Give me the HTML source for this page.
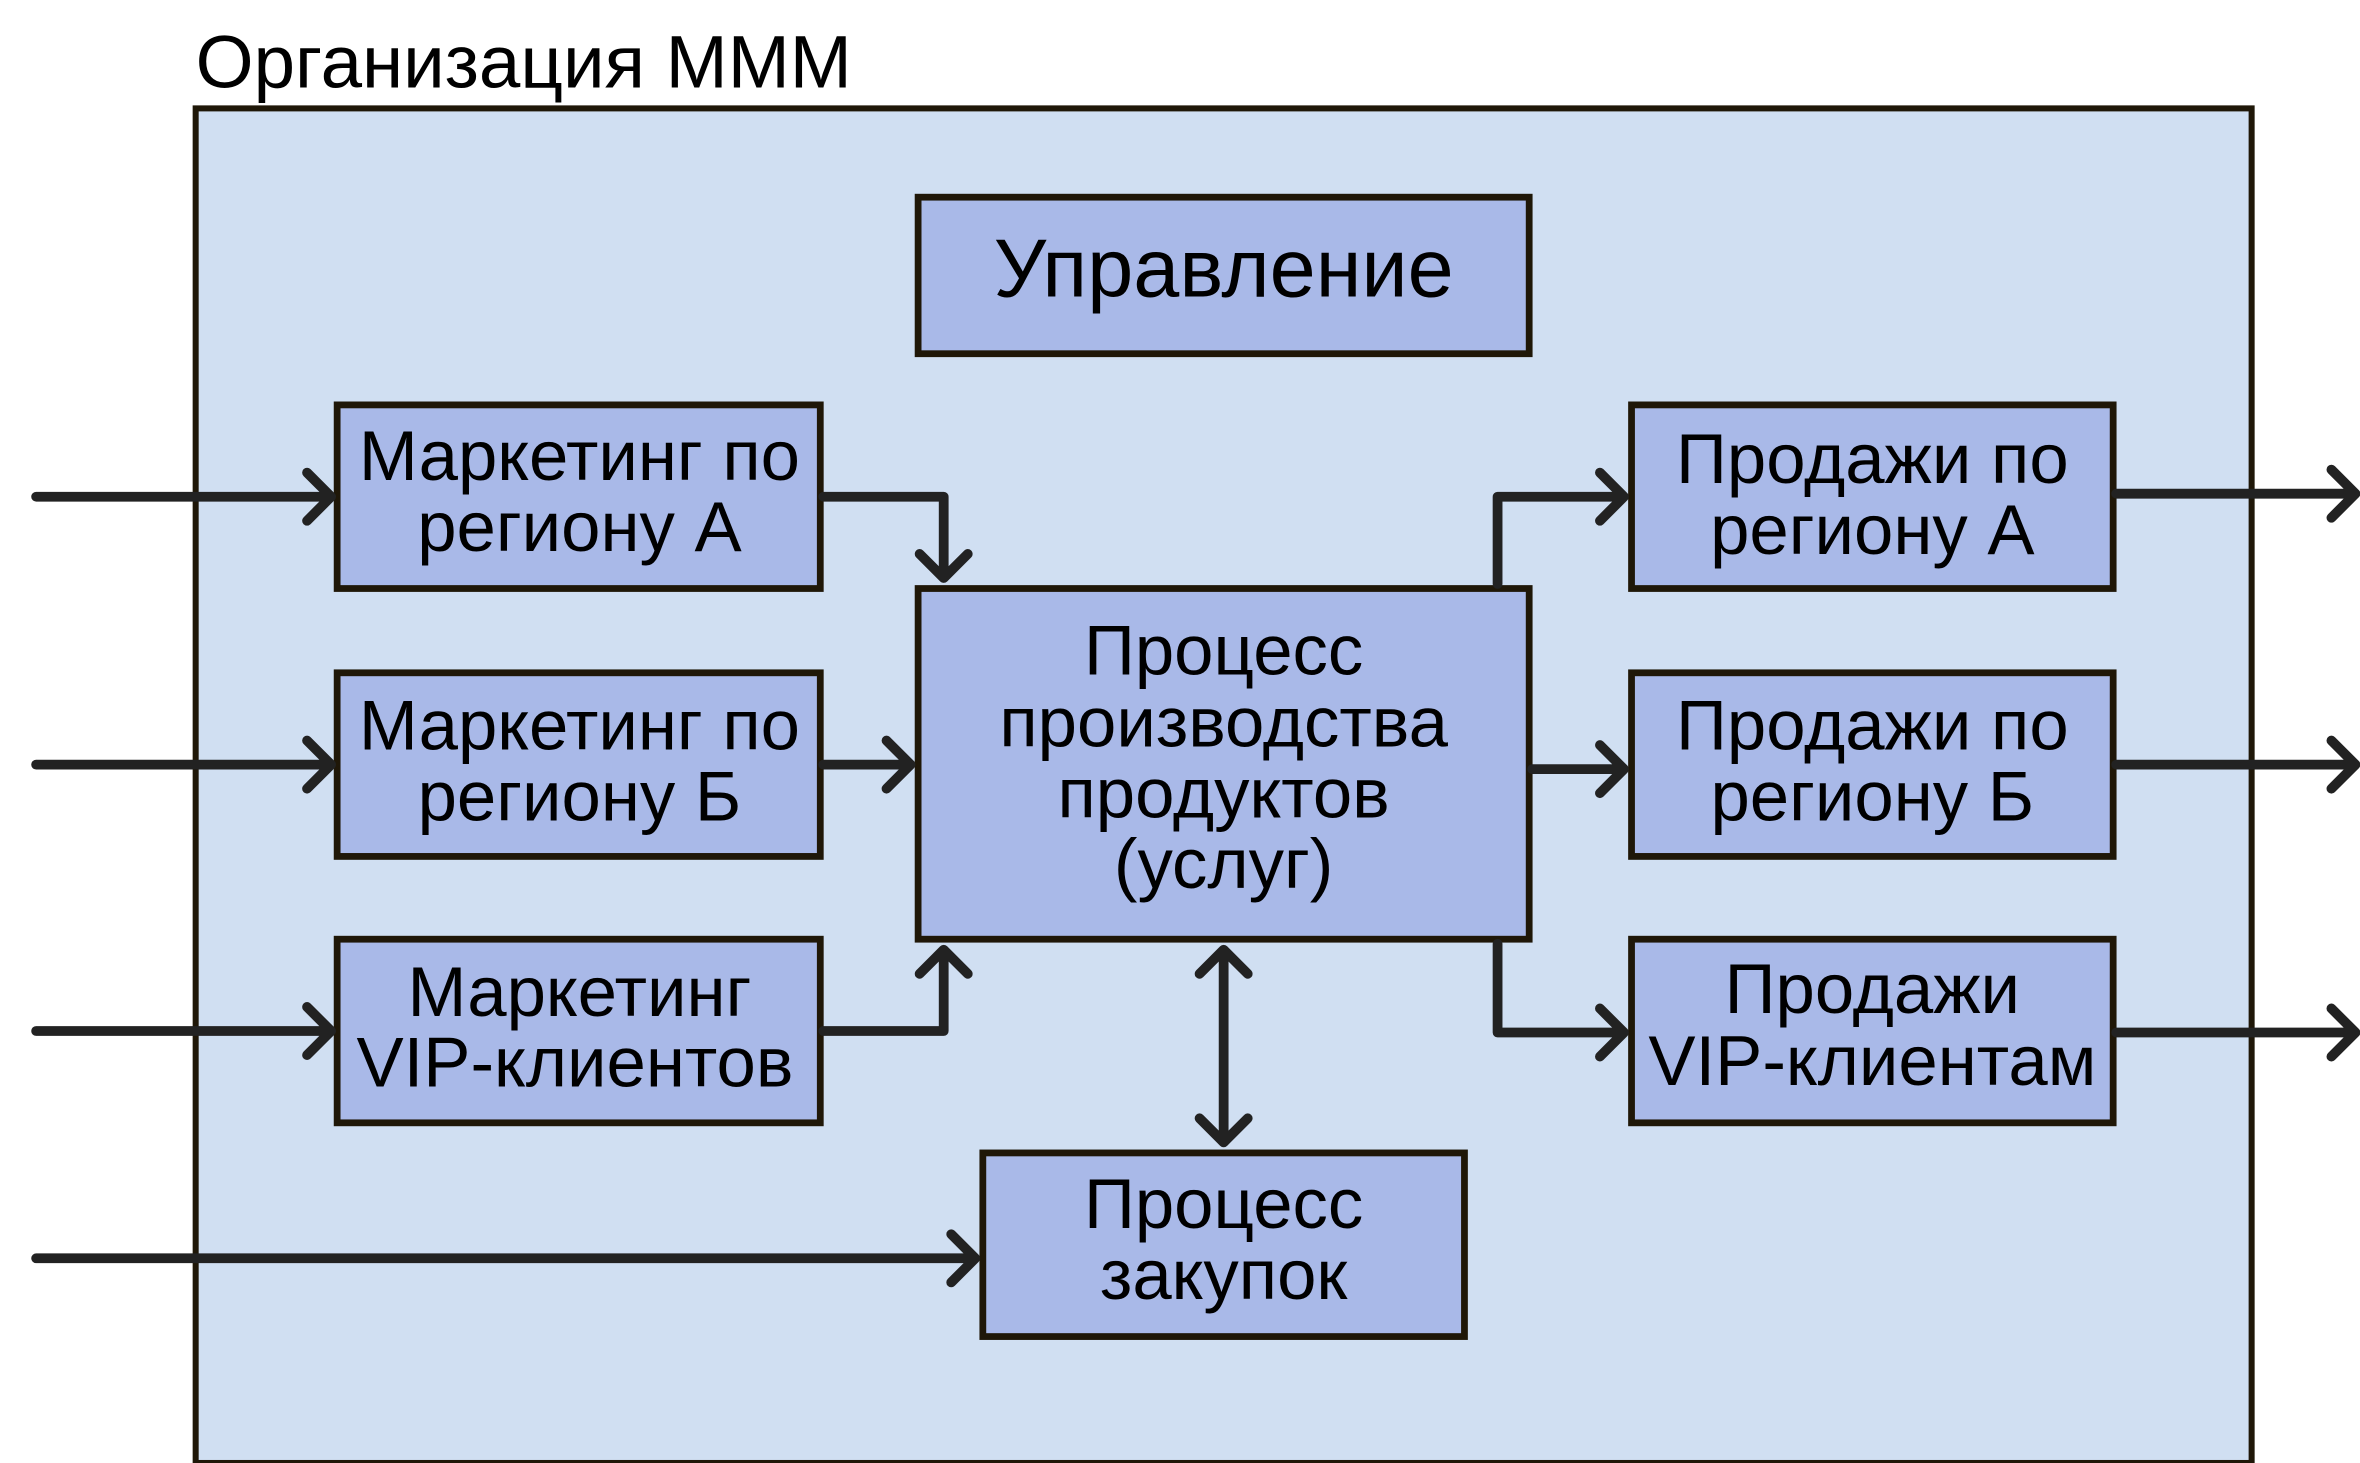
<!DOCTYPE html>
<html><head><meta charset="utf-8"><style>html,body{margin:0;padding:0;background:#fff}svg{display:block}</style></head><body>
<svg width="2360" height="1463" viewBox="0 0 1568 972" xmlns="http://www.w3.org/2000/svg" font-family="Liberation Sans, DejaVu Sans, sans-serif">
<rect x="0" y="0" width="1568" height="972" fill="#fff"/>
<text x="130" y="58" font-size="49.5" fill="#000">Организация МММ</text>
<rect x="130" y="72" width="1366" height="900" fill="#d0dff2" stroke="#1f1708" stroke-width="4"/>
<g fill="#a9b9e8" stroke="#1f1708" stroke-width="4.5">
<rect x="610" y="131" width="406" height="104"/>
<rect x="224" y="269" width="321" height="122"/>
<rect x="224" y="447" width="321" height="122"/>
<rect x="224" y="624" width="321" height="122"/>
<rect x="610" y="391" width="406" height="233"/>
<rect x="1084" y="269" width="320" height="122"/>
<rect x="1084" y="447" width="320" height="122"/>
<rect x="1084" y="624" width="320" height="122"/>
<rect x="653" y="766" width="320" height="122"/>
</g>
<g font-size="47" fill="#000" text-anchor="middle">
<text x="813" y="197" font-size="55">Управление</text>
<text x="385" y="319">Маркетинг по</text><text x="385" y="366">региону А</text>
<text x="385" y="498">Маркетинг по</text><text x="385" y="545">региону Б</text>
<text x="385" y="675">Маркетинг</text><text x="382" y="722">VIP-клиентов</text>
<text x="813" y="448">Процесс</text><text x="813" y="496">производства</text><text x="813" y="543">продуктов</text><text x="813" y="590">(услуг)</text>
<text x="1244" y="321">Продажи по</text><text x="1244" y="368">региону А</text>
<text x="1244" y="498">Продажи по</text><text x="1244" y="545">региону Б</text>
<text x="1244" y="673">Продажи</text><text x="1244" y="721">VIP-клиентам</text>
<text x="813" y="816">Процесс</text><text x="813" y="863">закупок</text>
</g>
<g fill="none" stroke="#222" stroke-width="6.5" stroke-linecap="round" stroke-linejoin="round">
<path d="M24 330H219M204 314l16 16l-16 16"/>
<path d="M24 508H219M204 492l16 16l-16 16"/>
<path d="M24 685H219M204 669l16 16l-16 16"/>
<path d="M24 836H647M632 820l16 16l-16 16"/>
<path d="M1406 328H1564M1549 312l16 16l-16 16"/>
<path d="M1406 508H1564M1549 492l16 16l-16 16"/>
<path d="M1406 686H1564M1549 670l16 16l-16 16"/>
<path d="M547 330H627V384M611 368l16 16l16 -16"/>
<path d="M547 508H604M589 492l16 16l-16 16"/>
<path d="M547 685H627V631M611 647l16 -16l16 16"/>
<path d="M995 388V330H1078M1063 314l16 16l-16 16"/>
<path d="M1018 511H1078M1063 495l16 16l-16 16"/>
<path d="M995 627V686H1078M1063 670l16 16l-16 16"/>
<path d="M813 631V759M797 647l16 -16l16 16M797 743l16 16l16 -16"/>
</g>
</svg>
</body></html>
